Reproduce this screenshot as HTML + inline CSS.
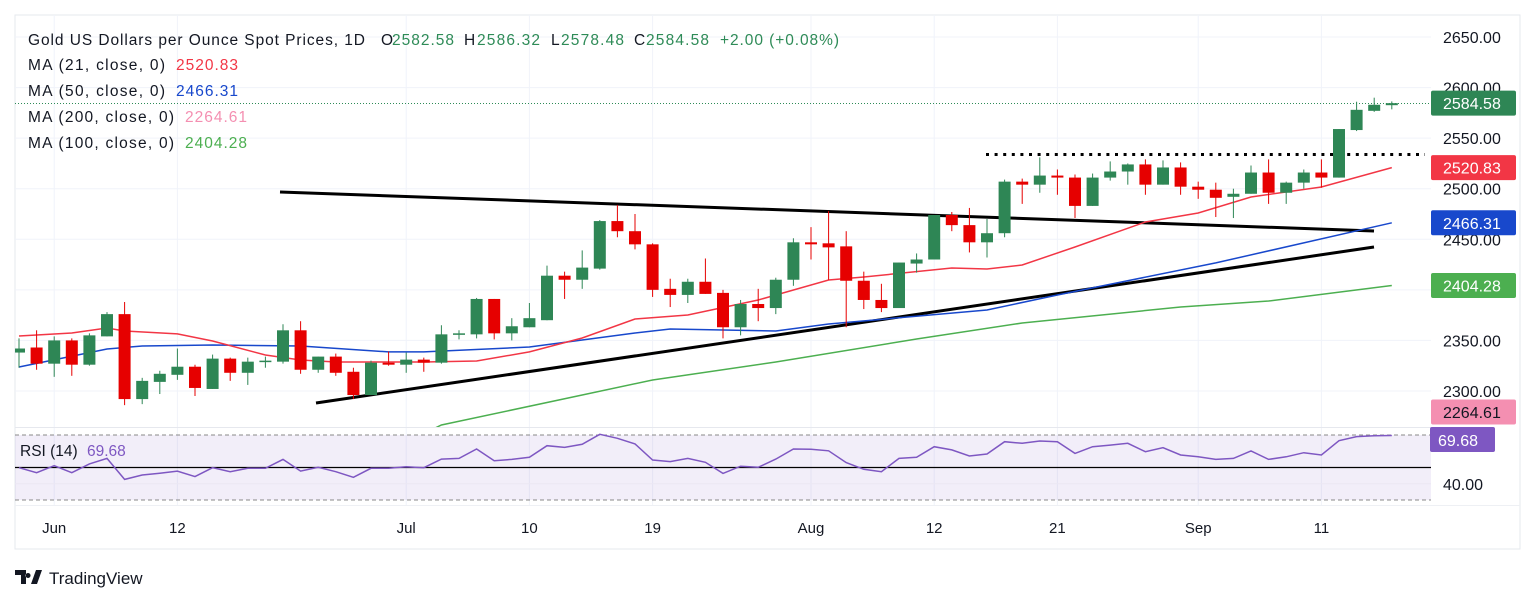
<!DOCTYPE html>
<html><head><meta charset="utf-8">
<style>
html,body{margin:0;padding:0;background:#fff;}
svg{display:block;font-family:"Liberation Sans",sans-serif;}
</style></head>
<body>
<svg id="chart" width="1536" height="603" viewBox="0 0 1536 603" xmlns="http://www.w3.org/2000/svg">
  <defs>
    <clipPath id="mainClip"><rect x="15" y="15" width="1416" height="412"/></clipPath>
    <clipPath id="rsiClip"><rect x="15" y="428" width="1416" height="77"/></clipPath>
  </defs>
  <rect x="15" y="15" width="1505" height="534" fill="#fff" stroke="#e6e8ee" stroke-width="1"/>
  <g id="grid"></g>
  <rect x="15" y="435" width="1416" height="65" fill="#7e57c2" fill-opacity="0.1"/>
  <line x1="15" y1="427.5" x2="1431" y2="427.5" stroke="#e6e8ee"/>
  <g id="trend" clip-path="url(#mainClip)">
    <line x1="280" y1="192" x2="1374" y2="231" stroke="#000" stroke-width="3"/>
    <line x1="316" y1="403" x2="1374" y2="247" stroke="#000" stroke-width="3"/>
    <line x1="986" y1="154.5" x2="1425" y2="154.5" stroke="#000" stroke-width="3" stroke-dasharray="3,5.6"/>
  </g>
  <g id="mas" clip-path="url(#mainClip)"></g>
  <g id="candles" clip-path="url(#mainClip)"></g>
  <line x1="15" y1="103.5" x2="1431" y2="103.5" stroke="#2e8b57" stroke-width="1" stroke-dasharray="1,2"/>
  <g id="rsi" clip-path="url(#rsiClip)"></g>
  <g id="axis"></g>
  <g id="xaxis"></g>

  <g font-size="15.5">
    <text x="28" y="45" fill="#131722" textLength="337">Gold US Dollars per Ounce Spot Prices, 1D</text>
    <text x="381" y="45" fill="#131722">O</text>
    <text x="392" y="45" fill="#2e8b57" textLength="62">2582.58</text>
    <text x="464" y="45" fill="#131722">H</text>
    <text x="477" y="45" fill="#2e8b57" textLength="63">2586.32</text>
    <text x="551" y="45" fill="#131722">L</text>
    <text x="561" y="45" fill="#2e8b57" textLength="63">2578.48</text>
    <text x="634" y="45" fill="#131722">C</text>
    <text x="646" y="45" fill="#2e8b57" textLength="63">2584.58</text>
    <text x="720" y="45" fill="#2e8b57" textLength="119">+2.00 (+0.08%)</text>
    <text x="28" y="70" fill="#131722" textLength="137">MA (21, close, 0)</text>
    <text x="176" y="70" fill="#f23645" textLength="62">2520.83</text>
    <text x="28" y="96" fill="#131722" textLength="137">MA (50, close, 0)</text>
    <text x="176" y="96" fill="#1848cc" textLength="62">2466.31</text>
    <text x="28" y="122" fill="#131722" textLength="146">MA (200, close, 0)</text>
    <text x="185" y="122" fill="#f48fb1" textLength="62">2264.61</text>
    <text x="28" y="148" fill="#131722" textLength="146">MA (100, close, 0)</text>
    <text x="185" y="148" fill="#4caf50" textLength="62">2404.28</text>
    <text x="20" y="456" fill="#131722">RSI (14)</text>
    <text x="87" y="456" fill="#7e57c2">69.68</text>
  </g>

  <g>
    <path d="M15 570 h11 v14 h-5 v-9 h-6 z M28 573 a2.5 2.5 0 1 0 0.1 0 z M31 584 l5 -14 h6 l-5 14 z" fill="#131722"/>
    <text x="49" y="584" font-size="17" fill="#131722">TradingView</text>
  </g>
</svg>
<script>
const opens=[2338,2343,2327,2350,2326,2354,2376,2292,2309,2316,2324,2302,2332,2318,2329,2329,2360,2321,2334,2319,2296,2328,2326,2331,2328,2356,2356,2391,2357,2363,2370,2414,2410,2421,2468,2458,2445,2401,2395,2408,2397,2363,2386,2382,2410,2447,2446,2443,2409,2390,2382,2426,2430,2474,2464,2447,2456,2507,2504,2513,2511,2483,2511,2517,2524,2504,2521,2502,2499,2492,2495,2516,2496,2506,2516,2511,2558,2577,2582.58];
const highs=[2352,2360,2354,2352,2357,2378,2388,2313,2320,2342,2326,2336,2333,2333,2334,2366,2369,2334,2337,2323,2330,2339,2338,2333,2365,2360,2392,2391,2372,2387,2424,2418,2439,2469,2484,2475,2446,2411,2411,2431,2400,2390,2401,2412,2451,2462,2478,2458,2418,2406,2427,2436,2474,2477,2481,2470,2509,2510,2531,2519,2514,2515,2527,2525,2529,2528,2526,2507,2506,2500,2523,2529,2507,2519,2529,2559,2586,2590,2586.32];
const lows=[2323,2321,2314,2315,2325,2354,2286,2287,2297,2311,2295,2302,2310,2306,2323,2327,2317,2318,2315,2292,2296,2325,2318,2319,2327,2351,2352,2351,2350,2363,2370,2391,2401,2420,2452,2440,2393,2383,2387,2396,2352,2355,2369,2376,2404,2430,2410,2363,2381,2378,2382,2417,2430,2458,2437,2432,2452,2485,2496,2494,2471,2483,2508,2504,2494,2504,2494,2490,2472,2471,2495,2485,2485,2500,2501,2511,2557,2576,2578.48];
const closes=[2342,2327,2350,2326,2355,2376,2292,2310,2317,2324,2303,2332,2318,2329,2330,2360,2321,2334,2318,2296,2328,2326,2331,2328,2356,2357,2391,2357,2364,2372,2414,2410,2422,2468,2458,2445,2400,2395,2408,2396,2363,2386,2382,2410,2447,2445,2442,2409,2390,2382,2427,2430,2474,2464,2447,2456,2507,2504,2513,2511,2483,2511,2517,2524,2504,2521,2502,2499,2491,2495,2516,2496,2506,2516,2511,2559,2578,2583,2584.58];
const ma21Idx=[0,3,5,6,9,11,14,16,18,23,26,29,32,35,38,42,46,48,53,55,57,60,64,67,70,74,78];
const ma21Val=[2354.4,2357.3,2362.3,2359.3,2356.4,2349.4,2335.6,2330.6,2328.7,2328.7,2329.7,2338.6,2352.4,2371.2,2375.1,2390.0,2409.7,2412.7,2421.6,2420.6,2424.6,2442.4,2467.1,2476.0,2491.8,2501.7,2520.83];
const ma50Idx=[0,5,7,11,16,21,23,29,35,37,43,46,55,59,68,78];
const ma50Val=[2323.7,2341.5,2344.5,2345.5,2344.5,2338.6,2338.6,2343.5,2357.3,2361.3,2359.3,2366.2,2380.1,2394.9,2426.6,2466.31];
const ma100Idx=[23,24,32,36,43,51,57,66,71,78];
const ma100Val=[2258,2266.4,2296.0,2310.9,2328.7,2351.4,2367.2,2383.0,2389.0,2404.28];
const rsiVals=[49.9,46.8,51.1,46.8,52.2,55.6,42.7,45.4,46.5,47.8,44.4,49.9,47.4,49.5,49.5,55.0,47.8,50.1,47.4,44.0,49.5,49.5,50.5,49.9,55.2,55.6,61.4,54.2,55.0,56.3,63.4,62.4,64.3,70.4,68.0,64.5,54.6,53.6,55.6,53.2,46.4,50.8,50.1,55.2,61.4,61.2,60.3,53.0,48.9,47.4,55.6,56.3,62.8,60.8,57.1,58.3,65.9,64.9,66.3,65.9,58.7,62.8,63.8,64.9,59.7,62.2,57.7,56.6,55.0,55.6,60.2,55.0,56.6,59.1,57.7,66.5,69.0,69.6,69.68];
const priceTicks=[2650,2600,2550,2500,2450,2400,2350,2300];
const dateLabels=["Jun","12","Jul","10","19","Aug","12","21","Sep","11"];
const dateIdx=[2,9,22,29,36,45,52,59,67,74];
const lastPrice=2584.58, ma21Last=2520.83, ma50Last=2466.31, ma100Last=2404.28, ma200Last=2264.61, rsiLast=69.68;

const NS="http://www.w3.org/2000/svg";
const X0=19, DX=17.6;
function xOf(i){return X0+DX*i;}
function yOf(p){return 37+(2650-p)*1.0114;}
function yR(r){return 435+(70-r)*1.625;}
function mk(tag,attrs,parent){const e=document.createElementNS(NS,tag);for(const k in attrs)e.setAttribute(k,attrs[k]);parent.appendChild(e);return e;}

const grid=document.getElementById('grid');
priceTicks.forEach(p=>{
  const l=mk('line',{x1:15,x2:1431,y1:yOf(p),y2:yOf(p),stroke:'#f0f3fa','stroke-width':1},grid);
  
  
});
dateIdx.forEach(i=>{
  const l=mk('line',{x1:xOf(i),x2:xOf(i),y1:15,y2:505,stroke:'#f0f3fa','stroke-width':1},grid);
  
  
});

const mas=document.getElementById('mas');
function maLine(idx,val,color,name){
  const pts=idx.map((i,k)=>xOf(i).toFixed(1)+','+yOf(val[k]).toFixed(1)).join(' ');
  const pl=mk('polyline',{points:pts,fill:'none',stroke:color,'stroke-width':1.5},mas);
  
  
}
maLine(ma100Idx,ma100Val,'#4caf50','ma100-line');
maLine(ma50Idx,ma50Val,'#1848cc','ma50-line');
maLine(ma21Idx,ma21Val,'#f23645','ma21-line');

const cg=document.getElementById('candles');
for(let i=0;i<opens.length;i++){
  const up=closes[i]>=opens[i];
  const col=up?'#2e8655':'#e60000';
  const x=xOf(i);
  const w=mk('line',{x1:x,x2:x,y1:yOf(highs[i]),y2:yOf(lows[i]),stroke:col,'stroke-width':1},cg);
  
  
  const top=yOf(Math.max(opens[i],closes[i])), bot=yOf(Math.min(opens[i],closes[i]));
  const b=mk('rect',{x:x-6,y:top,width:12,height:Math.max(1.5,bot-top),fill:col},cg);
  
  
}

const rg=document.getElementById('rsi');
[70,30].forEach(v=>{
  const l=mk('line',{x1:15,x2:1431,y1:yR(v),y2:yR(v),stroke:'#888','stroke-width':1,'stroke-dasharray':'4,3'},rg);
  
  
});
const gl=mk('line',{x1:15,x2:1431,y1:yR(40),y2:yR(40),stroke:'#ebe7f3','stroke-width':1},rg);


const ml=mk('line',{x1:15,x2:1431,y1:yR(50),y2:yR(50),stroke:'#000','stroke-width':1.2},rg);


const rp=mk('polyline',{points:rsiVals.map((v,i)=>xOf(i).toFixed(1)+','+yR(v).toFixed(1)).join(' '),fill:'none',stroke:'#7e57c2','stroke-width':1.5},rg);



const ax=document.getElementById('axis');
priceTicks.forEach(p=>{
  const t=mk('text',{x:1443,y:yOf(p)+6,'font-size':16,fill:'#131722'},ax);
  t.textContent=p.toFixed(2);
  
  
});
const t40=mk('text',{x:1443,y:yR(40)+6,'font-size':16,fill:'#131722'},ax);
t40.textContent='40.00';


function tag(cy,val,bg,fg,name){
  const g=mk('g',{},ax);
  
  
  mk('rect',{x:1431,y:cy-12.5,width:85,height:25,rx:2,fill:bg},g);
  const t=mk('text',{x:1443,y:cy+6,'font-size':16,fill:fg},g);
  t.textContent=val.toFixed(2);
}
tag(yOf(lastPrice),lastPrice,'#2e8655','#fff','last-price-tag');
tag(yOf(ma21Last),ma21Last,'#f23645','#fff','ma21-tag');
tag(yOf(ma50Last),ma50Last,'#1848cc','#fff','ma50-tag');
tag(yOf(ma100Last),ma100Last,'#4caf50','#fff','ma100-tag');
tag(Math.min(yOf(ma200Last),412),ma200Last,'#f48fb1','#131722','ma200-tag');
(function(){
  const g=mk('g',{},ax);
  
  
  mk('rect',{x:1430,y:427,width:65,height:25,rx:2,fill:'#7e57c2'},g);
  const t=mk('text',{x:1438,y:446,'font-size':16,fill:'#fff'},g);
  t.textContent=rsiLast.toFixed(2);
})();

const xa=document.getElementById('xaxis');
const sep=mk('line',{x1:15,x2:1520,y1:505.5,y2:505.5,stroke:'#eef0f4'},xa);


dateLabels.forEach((lab,k)=>{
  const t=mk('text',{x:xOf(dateIdx[k]),y:533,'font-size':15,fill:'#131722','text-anchor':'middle'},xa);
  t.textContent=lab;
  
  
});
</script>
</body></html>
